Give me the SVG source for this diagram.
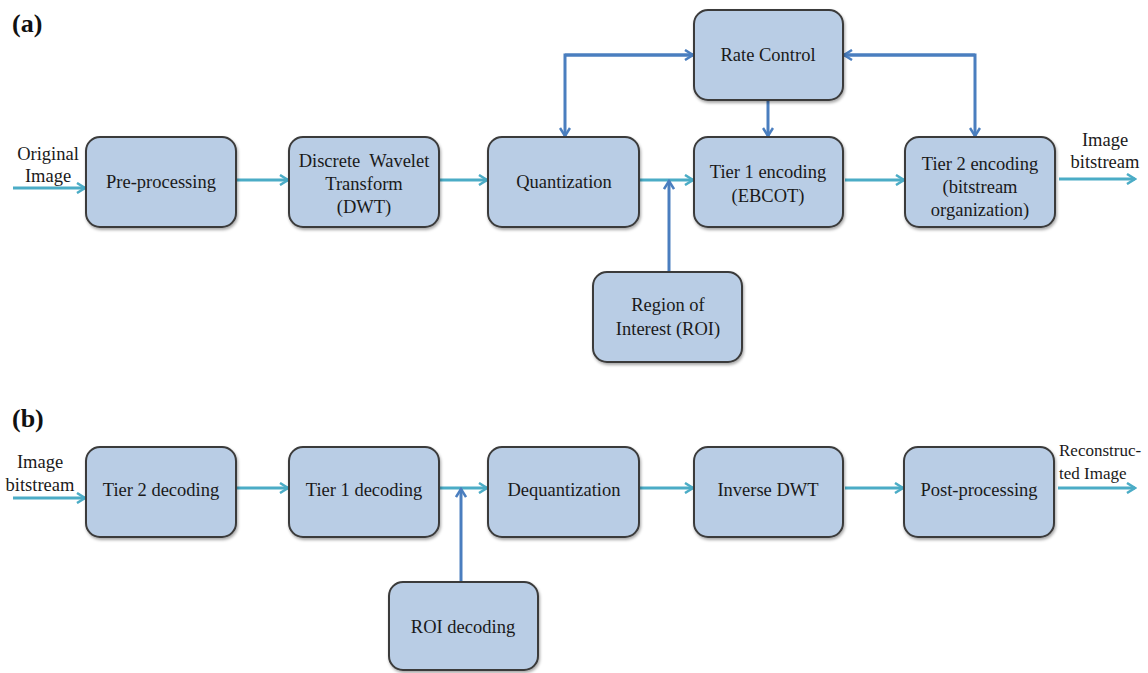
<svg xmlns="http://www.w3.org/2000/svg" width="1148" height="673" viewBox="0 0 1148 673">
<defs>
<style>
.box{fill:#b9cde5;stroke:#3b3b3b;stroke-width:2}
.t{font-family:'Liberation Serif','Times New Roman','DejaVu Serif',serif;font-size:18.5px;fill:#1a1a1a;text-anchor:middle}
.lbl{font-family:'Liberation Serif','Times New Roman','DejaVu Serif',serif;font-size:26px;font-weight:bold;fill:#111}
.cy{stroke:#4bacc6;stroke-width:3;fill:none}
.bl{stroke:#4a7ebf;stroke-width:3;fill:none}
</style>
<filter id="sh" x="-10%" y="-10%" width="120%" height="130%">
<feDropShadow dx="1" dy="2" stdDeviation="1.5" flood-color="#000" flood-opacity="0.35"/>
</filter>
<marker id="ac" viewBox="0 0 12 12" refX="10" refY="6" markerWidth="12" markerHeight="12" markerUnits="userSpaceOnUse" orient="auto">
<polyline points="2,1 10,6 2,11" fill="none" stroke="#4bacc6" stroke-width="2.5"/>
</marker>
<marker id="ab" viewBox="0 0 12 12" refX="10" refY="6" markerWidth="12" markerHeight="12" markerUnits="userSpaceOnUse" orient="auto">
<polyline points="2,1 10,6 2,11" fill="none" stroke="#4a7ebf" stroke-width="2.5"/>
</marker>
</defs>
<rect width="1148" height="673" fill="#fff"/>
<text class="lbl" x="12" y="32">(a)</text>
<text class="lbl" x="12" y="427">(b)</text>

<g id="connectors">
<line class="cy" x1="13" y1="188" x2="85" y2="188" marker-end="url(#ac)"/>
<line class="cy" x1="237" y1="180" x2="288" y2="180" marker-end="url(#ac)"/>
<line class="cy" x1="440" y1="180" x2="487" y2="180" marker-end="url(#ac)"/>
<line class="cy" x1="640" y1="180" x2="693" y2="180" marker-end="url(#ac)"/>
<line class="cy" x1="845" y1="180" x2="904" y2="180" marker-end="url(#ac)"/>
<line class="cy" x1="1059" y1="179" x2="1135" y2="179" marker-end="url(#ac)"/>
<polyline class="bl" points="693,55 565,55 565,136" marker-end="url(#ab)"/>
<line class="bl" x1="565" y1="55" x2="693" y2="55" marker-end="url(#ab)"/>
<polyline class="bl" points="844,55 975,55 975,136" marker-end="url(#ab)"/>
<line class="bl" x1="975" y1="55" x2="844" y2="55" marker-end="url(#ab)"/>
<line class="bl" x1="768" y1="101" x2="768" y2="136" marker-end="url(#ab)"/>
<line class="bl" x1="669" y1="271" x2="669" y2="181" marker-end="url(#ab)"/>

<line class="cy" x1="13" y1="498" x2="85" y2="498" marker-end="url(#ac)"/>
<line class="cy" x1="237" y1="488" x2="288" y2="488" marker-end="url(#ac)"/>
<line class="cy" x1="440" y1="488" x2="487" y2="488" marker-end="url(#ac)"/>
<line class="cy" x1="640" y1="488" x2="693" y2="488" marker-end="url(#ac)"/>
<line class="cy" x1="845" y1="488" x2="903" y2="488" marker-end="url(#ac)"/>
<line class="cy" x1="1058" y1="488" x2="1135" y2="488" marker-end="url(#ac)"/>
<line class="bl" x1="461" y1="581" x2="461" y2="489" marker-end="url(#ab)"/>
</g>

<g id="labels-io">
<text class="t" x="48" y="160">Original</text>
<text class="t" x="48" y="182">Image</text>
<text class="t" x="1105" y="146">Image</text>
<text class="t" x="1105" y="168">bitstream</text>
<text class="t" x="40" y="468">Image</text>
<text class="t" x="40" y="491">bitstream</text>
<text class="t" x="1059" y="456" style="text-anchor:start;font-size:17px">Reconstruc-</text>
<text class="t" x="1059" y="479" style="text-anchor:start;font-size:17px">ted Image</text>
</g>

<g id="pre" filter="url(#sh)"><rect class="box" x="86" y="137" width="150" height="90" rx="14"/></g>
<text class="t" x="161" y="188">Pre-processing</text>
<g id="dwt" filter="url(#sh)"><rect class="box" x="289" y="137" width="150" height="90" rx="14"/></g>
<text class="t" x="364" y="167" xml:space="preserve">Discrete  Wavelet</text>
<text class="t" x="364" y="190">Transform</text>
<text class="t" x="364" y="213">(DWT)</text>
<g id="quant" filter="url(#sh)"><rect class="box" x="488" y="137" width="151" height="90" rx="14"/></g>
<text class="t" x="564" y="188">Quantization</text>
<g id="tier1" filter="url(#sh)"><rect class="box" x="694" y="137" width="149" height="90" rx="14"/></g>
<text class="t" x="768" y="178">Tier 1 encoding</text>
<text class="t" x="768" y="202">(EBCOT)</text>
<g id="rate" filter="url(#sh)"><rect class="box" x="694" y="10" width="149" height="90" rx="14"/></g>
<text class="t" x="768" y="61">Rate Control</text>
<g id="tier2" filter="url(#sh)"><rect class="box" x="905" y="137" width="150" height="90" rx="14"/></g>
<text class="t" x="980" y="170">Tier 2 encoding</text>
<text class="t" x="980" y="193">(bitstream</text>
<text class="t" x="980" y="216">organization)</text>
<g id="roi" filter="url(#sh)"><rect class="box" x="593" y="272" width="149" height="90" rx="14"/></g>
<text class="t" x="668" y="311">Region of</text>
<text class="t" x="668" y="335">Interest (ROI)</text>

<g id="t2dec" filter="url(#sh)"><rect class="box" x="86" y="447" width="150" height="90" rx="14"/></g>
<text class="t" x="161" y="496">Tier 2 decoding</text>
<g id="t1dec" filter="url(#sh)"><rect class="box" x="289" y="447" width="150" height="90" rx="14"/></g>
<text class="t" x="364" y="496">Tier 1 decoding</text>
<g id="dequant" filter="url(#sh)"><rect class="box" x="488" y="447" width="151" height="90" rx="14"/></g>
<text class="t" x="564" y="496">Dequantization</text>
<g id="idwt" filter="url(#sh)"><rect class="box" x="694" y="447" width="149" height="90" rx="14"/></g>
<text class="t" x="768" y="496">Inverse DWT</text>
<g id="post" filter="url(#sh)"><rect class="box" x="904" y="447" width="150" height="90" rx="14"/></g>
<text class="t" x="979" y="496">Post-processing</text>
<g id="roidec" filter="url(#sh)"><rect class="box" x="389" y="582" width="149" height="88" rx="14"/></g>
<text class="t" x="463" y="633">ROI decoding</text>
</svg>
